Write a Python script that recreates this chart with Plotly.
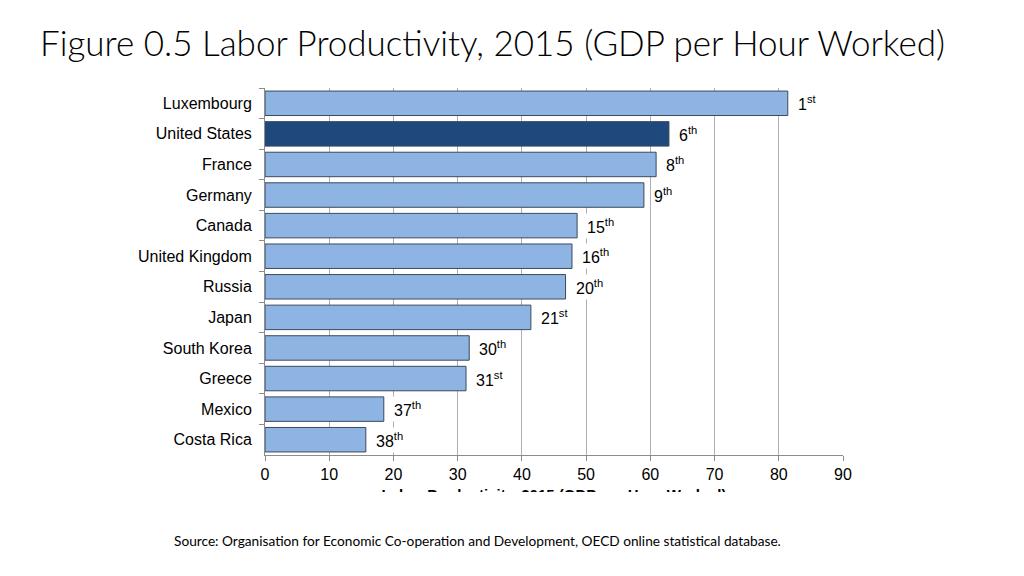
import plotly.graph_objects as go

countries = ["Luxembourg", "United States", "France", "Germany", "Canada", "United Kingdom",
             "Russia", "Japan", "South Korea", "Greece", "Mexico", "Costa Rica"]
values = [81.4, 62.9, 60.9, 59.0, 48.6, 47.8, 46.8, 41.4, 31.8, 31.3, 18.5, 15.7]
rank_num = ["1", "6", "8", "9", "15", "16", "20", "21", "30", "31", "37", "38"]
rank_suf = ["st", "th", "th", "th", "th", "th", "th", "st", "th", "st", "th", "th"]
x_ticks = [0, 10, 20, 30, 40, 50, 60, 70, 80, 90]

LIGHT = "#8DB4E2"
DARK = "#1F497D"
colors = [DARK if c == "United States" else LIGHT for c in countries]

L, R, T, B = 265, 181, 88, 84
PW, PH = 1024 - L - R, 576 - T - B


def px_x(px):
    return (px - L) / PW


def px_y(py):
    return (576 - B - py) / PH


fig = go.Figure()
fig.add_trace(go.Bar(
    y=countries, x=values, orientation="h",
    marker=dict(color=colors, line=dict(color="#3a4a5c", width=1)),
    width=0.8, showlegend=False, hoverinfo="skip",
))

# clipped x-axis title (drawn in a thin helper subplot so its lower half is cut off)
fig.add_trace(go.Scatter(
    x=[45], y=[-4.5], mode="text", xaxis="x2", yaxis="y2",
    text=["<b>Labor Productivity, 2015 (GDP per Hour Worked)</b>"],
    textfont=dict(family="Liberation Sans", size=15, color="#000000"),
    textposition="middle center", cliponaxis=True, showlegend=False, hoverinfo="skip",
))

for c, v, n, s in zip(countries, values, rank_num, rank_suf):
    fig.add_annotation(
        x=v, y=c, xref="x", yref="y", xanchor="left", yanchor="middle",
        text=f"{n}<sup>{s}</sup>", showarrow=False, xshift=7,
        font=dict(family="Liberation Sans", size=16, color="#000000"),
        bgcolor="white", borderpad=2,
    )

fig.add_annotation(
    x=px_x(38), y=px_y(42), xref="paper", yref="paper", xanchor="left", yanchor="middle",
    text="Figure 0.5 Labor Productivity, 2015 (GDP per Hour Worked)", showarrow=False,
    font=dict(family="Lato", size=35, color="#000000", weight=300),
)

fig.add_annotation(
    x=px_x(172), y=px_y(540), xref="paper", yref="paper", xanchor="left", yanchor="middle",
    text="Source: Organisation for Economic Co-operation and Development, OECD online statistical database.",
    showarrow=False, font=dict(family="Lato", size=13.7, color="#000000"),
)

fig.update_layout(
    width=1024, height=576,
    margin=dict(l=L, r=R, t=T, b=B, autoexpand=False),
    paper_bgcolor="white", plot_bgcolor="white",
    bargap=0.2,
    xaxis=dict(range=[0, 90], tickvals=x_ticks, showgrid=True, gridcolor="#b0b0b0", gridwidth=1,
               showline=True, linecolor="#8c8c8c", linewidth=1, ticks="outside", ticklen=5,
               tickcolor="#8c8c8c", zeroline=False, anchor="y",
               tickfont=dict(family="Liberation Sans", size=16, color="#000000")),
    yaxis=dict(domain=[37 / PH, 1], autorange="reversed", type="category", showline=True,
               linecolor="#8c8c8c", linewidth=1, ticks="outside", ticklen=5, tickcolor="#8c8c8c",
               tickson="boundaries", showgrid=False, ticklabelstandoff=9,
               tickfont=dict(family="Liberation Sans", size=16, color="#000000")),
    xaxis2=dict(range=[0, 90], visible=False, anchor="y2"),
    yaxis2=dict(domain=[0, 12 / PH], range=[0, 12], visible=False, anchor="x2"),
)

fig.write_html("out.html", config={"displayModeBar": False},
               post_script="document.body.style.margin='0';")
